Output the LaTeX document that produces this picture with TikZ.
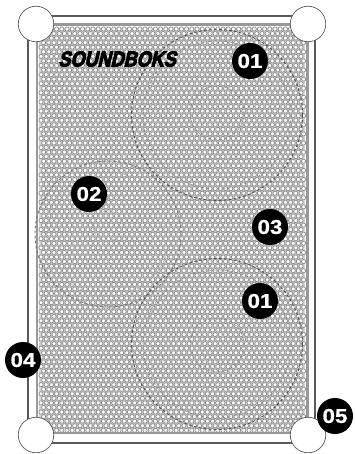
\documentclass[tikz,border=0pt]{standalone}
\usepackage{fontspec}
\usepackage{tikz}
\setmainfont{Liberation Sans}
\newfontfamily\logofont[BoldFont={Liberation Sans Bold},FakeBold=4.2,FakeSlant=0.24,FakeStretch=0.84]{Liberation Sans}
\newfontfamily\badgefont[BoldFont={Liberation Sans Bold},FakeBold=0.8,FakeStretch=1.12]{Liberation Sans}
\begin{document}
\begin{tikzpicture}[x=1pt,y=-1pt,
        badge/.style={circle,fill=black,text=white,minimum size=36pt,inner sep=0pt,font=\badgefont\bfseries\fontsize{20}{20}\selectfont},
        corner/.style={circle,draw=black!65,fill=white,line width=0.7pt,minimum size=35.5pt,inner sep=0pt},
        hole/.style={draw=black!45,fill=white,line width=0.75pt},
        woofer/.style={draw=black!70,line width=0.9pt,dash pattern=on 2.6pt off 2.4pt},
        wooferin/.style={draw=black!50,line width=0.55pt,dash pattern=on 2.6pt off 2.8pt}]
        \useasboundingbox (0,0) rectangle (354,454);
        % cabinet
        \draw[black!65,line width=1.2pt] (28,16) rectangle (315,443);
        \draw[black!40,line width=2.2pt] (37,24.5) rectangle (307.5,433);
        \fill[black!16] (39,28) rectangle (305,429);
        % grille
        \foreach \r in {0,...,88} {
            \pgfmathsetmacro{\rowy}{29+\r*4.56}
            \pgfmathsetmacro{\rowx}{41+mod(\r,2)*2.6}
            \foreach \c in {0,...,50} {
                \draw[hole] (\rowx+\c*5.2,\rowy) circle (2.1);
            }
        }
        % speakers
        \draw[woofer] (217,115) circle (85.5);
        \draw[wooferin] (217,115) circle (74);
        \draw[wooferin] (217,113) circle (27);
        \draw[woofer] (217,344) circle (85.5);
        \draw[wooferin] (217,344) circle (74);
        \draw[wooferin] (217,345) circle (27);
        \draw[woofer,draw=black!55] (108,234) circle (73);
        \draw[wooferin,draw=black!35] (108,234) circle (62);
        \draw[wooferin,draw=black!35] (108,226) circle (15);
        % logo
        \node[text=black,inner sep=0pt] (logo) at (117,59) {\logofont\bfseries\fontsize{21.5}{22}\selectfont SOUNDBOKS};
        % corners
        \node[corner] (cornernw) at (36,24) {};
        \node[corner] (cornerne) at (308,24) {};
        \node[corner] (cornersw) at (36,435) {};
        \node[corner] (cornerse) at (308,435) {};
        % callouts
        \node[badge] (one) at (250,61) {01};
        \node[badge] (two) at (89,194) {02};
        \node[badge] (three) at (270,227) {03};
        \node[badge] (onelow) at (260,301) {01};
        \node[badge] (four) at (23,360) {04};
        \node[badge] (five) at (335,416) {05};
\end{tikzpicture}
\end{document}
